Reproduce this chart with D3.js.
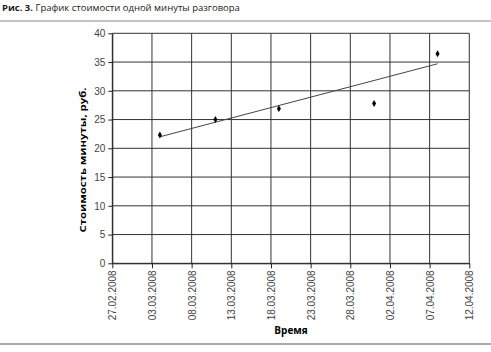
<!DOCTYPE html>
<html>
<head>
<meta charset="utf-8">
<script src="https://cdn.jsdelivr.net/npm/d3@7"></script>
<style>
  body { margin: 0; background: #fff; }
  .tick text { font-family: "Liberation Sans", Arial, sans-serif; font-size: 10px; fill: #444; }
</style>
</head>
<body>
<div id="chart"></div>
<script>
// Data points
const dates = ['04.03.2008', '11.03.2008', '19.03.2008', '31.03.2008', '08.04.2008'];
const costs = [22.3, 25.0, 26.9, 27.8, 36.45];

// Linear trend line as drawn in the picture (start / end)
const trendDates = ['04.03.2008', '08.04.2008'];
const trendValues = [22.0, 34.7];

const xTickLabels = ['27.02.2008', '03.03.2008', '08.03.2008', '13.03.2008', '18.03.2008',
  '23.03.2008', '28.03.2008', '02.04.2008', '07.04.2008', '12.04.2008'];
const yTicks = [0, 5, 10, 15, 20, 25, 30, 35, 40];

const width = 491, height = 352;
const plot = { left: 112.3, right: 469.3, top: 33.3, bottom: 263.3 };

const parse = d3.timeParse('%d.%m.%Y');
const points = dates.map((d, i) => ({ date: parse(d), value: costs[i] }));
const trend = trendDates.map((d, i) => ({ date: parse(d), value: trendValues[i] }));
const xTicks = xTickLabels.map(parse);

const xscale = d3.scaleTime()
  .domain([xTicks[0], xTicks[xTicks.length - 1]])
  .range([plot.left, plot.right]);
const yscale = d3.scaleLinear().domain([0, 40]).range([plot.bottom, plot.top]);

const svg = d3.select('#chart').append('svg')
  .attr('width', width)
  .attr('height', height);

// Caption and rules
const caption = svg.append('text')
  .attr('x', 2).attr('y', 11)
  .style('font-family', '"Open Sans", sans-serif')
  .style('font-size', '9.5px')
  .attr('fill', '#222');
caption.append('tspan').attr('font-weight', 'bold').text('Рис. 3.');
caption.append('tspan').text(' График стоимости одной минуты разговора');

svg.append('line').attr('x1', 0).attr('x2', width).attr('y1', 21).attr('y2', 21)
  .attr('stroke', '#888').attr('stroke-width', 1);
svg.append('line').attr('x1', 0).attr('x2', width).attr('y1', 344).attr('y2', 344)
  .attr('stroke', '#aaa').attr('stroke-width', 2);

// Grid
svg.append('g').selectAll('line')
  .data(yTicks)
  .join('line')
  .attr('x1', plot.left).attr('x2', plot.right)
  .attr('y1', d => yscale(d)).attr('y2', d => yscale(d))
  .attr('stroke', '#333').attr('stroke-width', 1);
svg.append('g').selectAll('line')
  .data(xTicks)
  .join('line')
  .attr('x1', d => xscale(d)).attr('x2', d => xscale(d))
  .attr('y1', plot.top).attr('y2', plot.bottom)
  .attr('stroke', '#333').attr('stroke-width', 1);

// Axes
const xaxis = d3.axisBottom(xscale).tickValues(xTicks).tickFormat(d3.timeFormat('%d.%m.%Y'))
  .tickSize(5).tickSizeOuter(0);
const yaxis = d3.axisLeft(yscale).tickValues(yTicks).tickSize(4).tickSizeOuter(0);

const gx = svg.append('g')
  .attr('transform', `translate(0, ${plot.bottom})`)
  .call(xaxis);
gx.select('.domain').attr('stroke', '#222');
gx.selectAll('.tick line').attr('stroke', '#222');
gx.selectAll('.tick text')
  .attr('transform', 'rotate(-90)')
  .attr('text-anchor', 'end')
  .attr('x', -7)
  .attr('y', 0)
  .attr('dy', '0.35em');

const gy = svg.append('g')
  .attr('transform', `translate(${plot.left}, 0)`)
  .call(yaxis);
gy.select('.domain').attr('stroke', '#222');
gy.selectAll('.tick line').attr('stroke', '#222');
gy.selectAll('.tick text').attr('x', -7);

// Axis titles
svg.append('text')
  .attr('transform', 'translate(86, 160) rotate(-90)')
  .attr('text-anchor', 'middle')
  .style('font-family', '"Open Sans", sans-serif')
  .style('font-size', '9.5px')
  .attr('font-weight', 'bold')
  .attr('textLength', 145)
  .attr('lengthAdjust', 'spacingAndGlyphs')
  .text('Стоимость минуты, руб.');

svg.append('text')
  .attr('x', 291).attr('y', 334)
  .attr('text-anchor', 'middle')
  .style('font-family', '"Open Sans", sans-serif')
  .style('font-size', '10px')
  .attr('font-weight', 'bold')
  .text('Время');

// Trend line
svg.append('path')
  .datum(trend)
  .attr('d', d3.line().x(d => xscale(d.date)).y(d => yscale(d.value)))
  .attr('fill', 'none')
  .attr('stroke', '#444').attr('stroke-width', 1);

// Diamond markers
svg.append('g').selectAll('path')
  .data(points)
  .join('path')
  .attr('d', d3.symbol(d3.symbolDiamond, 14))
  .attr('transform', d => `translate(${xscale(d.date)}, ${yscale(d.value)})`)
  .attr('fill', '#000');
</script>
</body>
</html>
